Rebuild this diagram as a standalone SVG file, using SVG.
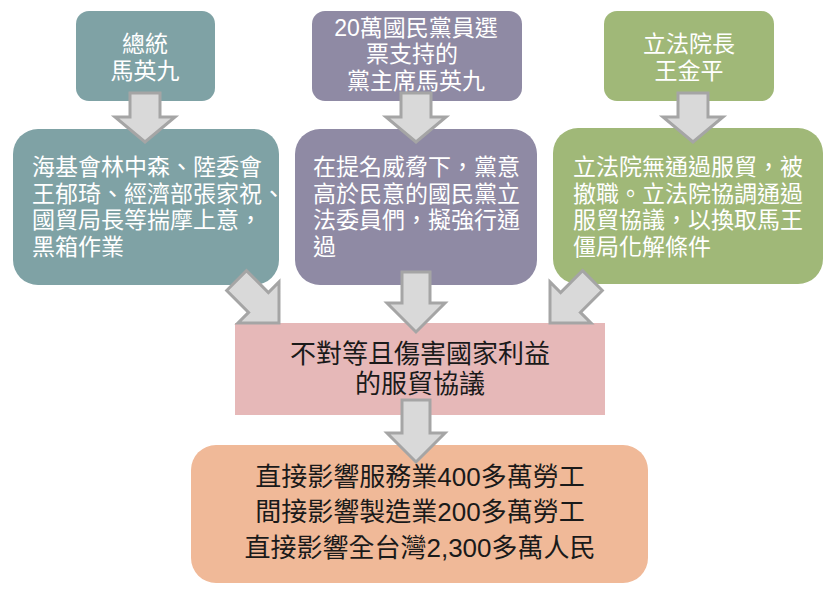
<svg xmlns="http://www.w3.org/2000/svg" width="833" height="591" viewBox="0 0 833 591">
<style>
text{font-family:"Liberation Sans","Noto Sans CJK TC","Noto Sans CJK SC",sans-serif;font-size:23px}
.w{fill:#ffffff}
.k{fill:#1a1a1a;font-size:26px}
.c{text-anchor:middle}
.teal{fill:#7fa2a5}
.purple{fill:#8f8aa4}
.green{fill:#a0b878}
.arrow{fill:#d9d9d9;stroke:#a5a5a5;stroke-width:3;stroke-linejoin:miter}
</style>
<defs>
<polygon id="diag" points="-14,-60 14,-60 14,-29 29,-29 0,0 -29,-29 -14,-29"/>
</defs>
<rect width="833" height="591" fill="#ffffff"/>
<g id="node-president">
<rect class="teal" x="76" y="11" width="139" height="90" rx="13"/>
<text class="w c"><tspan x="145" y="52">總統</tspan><tspan x="145" y="79">馬英九</tspan></text>
</g>
<g id="node-chairman">
<rect class="purple" x="312" y="11" width="210" height="90" rx="13"/>
<text class="w c"><tspan x="416" y="36">20萬國民黨員選</tspan><tspan x="412" y="62">票支持的</tspan><tspan x="416" y="89">黨主席馬英九</tspan></text>
</g>
<g id="node-speaker">
<rect class="green" x="604" y="11" width="170" height="90" rx="13"/>
<text class="w c"><tspan x="689" y="52">立法院長</tspan><tspan x="689" y="79">王金平</tspan></text>
</g>
<g id="node-officials">
<rect class="teal" x="13" y="129" width="266" height="156" rx="25"/>
<text class="w"><tspan x="32" y="175">海基會林中森、陸委會</tspan><tspan x="32" y="202">王郁琦、經濟部張家祝、</tspan><tspan x="32" y="228">國貿局長等揣摩上意，</tspan><tspan x="32" y="255">黑箱作業</tspan></text>
</g>
<g id="node-legislators">
<rect class="purple" x="295" y="129" width="242" height="156" rx="25"/>
<text class="w"><tspan x="313" y="175">在提名威脅下，黨意</tspan><tspan x="313" y="202">高於民意的國民黨立</tspan><tspan x="313" y="228">法委員們，擬強行通</tspan><tspan x="313" y="255">過</tspan></text>
</g>
<g id="node-legislature">
<rect class="green" x="553" y="128" width="270" height="156" rx="25"/>
<text class="w"><tspan x="573" y="175">立法院無通過服貿，被</tspan><tspan x="573" y="202">撤職。立法院協調通過</tspan><tspan x="573" y="228">服貿協議，以換取馬王</tspan><tspan x="573" y="255">僵局化解條件</tspan></text>
</g>
<g id="node-agreement">
<rect x="235" y="323" width="370" height="92" fill="#e6b8b8"/>
<text class="k c"><tspan x="420" y="363">不對等且傷害國家利益</tspan><tspan x="420" y="393">的服貿協議</tspan></text>
</g>
<g id="node-impact">
<rect x="191" y="445" width="457" height="138" rx="25" fill="#f0b998"/>
<text class="k c"><tspan x="420" y="486">直接影響服務業400多萬勞工</tspan><tspan x="420" y="521">間接影響製造業200多萬勞工</tspan><tspan x="420" y="557">直接影響全台灣2,300多萬人民</tspan></text>
</g>
<g id="connectors">
<polygon class="arrow" points="130,93 160,93 160,117 175,117 145,142 115,117 130,117"/>
<polygon class="arrow" points="401,93 431,93 431,117 446,117 416,142 386,117 401,117"/>
<polygon class="arrow" points="678,93 708,93 708,117 723,117 693,142 663,117 678,117"/>
<use class="arrow" href="#diag" transform="translate(279,323) rotate(-45)"/>
<polygon class="arrow" points="402,272 430,272 430,303 445,303 416,332 387,303 402,303"/>
<use class="arrow" href="#diag" transform="translate(550,323) rotate(45)"/>
<polygon class="arrow" points="402,400 430,400 430,433 445,433 416,462 387,433 402,433"/>
</g>
</svg>
